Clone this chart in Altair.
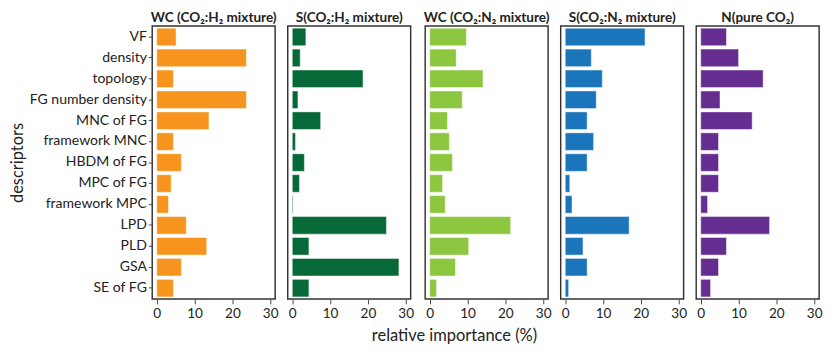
import altair as alt
import pandas as pd

descriptors = ["VF", "density", "topology", "FG number density", "MNC of FG",
               "framework MNC", "HBDM of FG", "MPC of FG", "framework MPC",
               "LPD", "PLD", "GSA", "SE of FG"]

panel_titles = ["WC (CO₂:H₂ mixture)", "S(CO₂:H₂ mixture)", "WC (CO₂:N₂ mixture)",
                "S(CO₂:N₂ mixture)", "N(pure CO₂)"]
panel_colors = ["#f7941d", "#076938", "#8dc63f", "#1b75bb", "#662d91"]

wc_h2 = [5.1, 23.7, 4.4, 23.7, 13.8, 4.4, 6.5, 3.8, 3.1, 7.8, 13.2, 6.5, 4.4]
s_h2 = [3.6, 2.1, 18.7, 1.5, 7.5, 0.85, 3.2, 1.9, 0.2, 24.9, 4.4, 28.2, 4.4]
wc_n2 = [9.7, 7.0, 14.1, 8.6, 4.7, 5.2, 6.0, 3.4, 4.1, 21.4, 10.3, 6.8, 1.8]
s_n2 = [21.1, 6.9, 9.8, 8.2, 5.8, 7.5, 5.8, 1.2, 1.8, 16.9, 4.7, 5.8, 0.9]
n_co2 = [6.8, 10.0, 16.5, 5.1, 13.6, 4.7, 4.7, 4.7, 1.8, 18.2, 6.8, 4.7, 2.6]

series = [wc_h2, s_h2, wc_n2, s_n2, n_co2]
tick_values = [0, 10, 20, 30]

FONT = "Lato"

panels = []
for i, (title, color, vals) in enumerate(zip(panel_titles, panel_colors, series)):
    df = pd.DataFrame({"descriptor": descriptors, "value": vals})
    if i == 0:
        yaxis = alt.Axis(title="descriptors", labelFontSize=14.5, titleFontSize=17,
                         titleFontWeight="normal", labelColor="#222", titleColor="#222",
                         domain=False, ticks=True, tickSize=4, tickColor="#444",
                         labelPadding=2, titlePadding=2, labelFont=FONT, titleFont=FONT)
    else:
        yaxis = None
    c = alt.Chart(df).mark_bar(color=color, stroke="white", strokeWidth=0.8,
                               strokeOpacity=0.6).encode(
        x=alt.X("value:Q",
                scale=alt.Scale(domain=[-1.2, 31.3], nice=False, zero=False),
                axis=alt.Axis(values=tick_values, title=None, domain=False,
                              tickSize=5, tickColor="#444", labelFontSize=14,
                              labelColor="#222", labelFont=FONT, grid=False,
                              labelPadding=3)),
        y=alt.Y("descriptor:N", sort=descriptors,
                scale=alt.Scale(paddingInner=0.16, paddingOuter=0.1),
                axis=yaxis),
    ).properties(
        width=127, height=282,
        title=alt.TitleParams(title, fontSize=14, fontWeight="bold", font=FONT,
                              color="#222", offset=1)
    )
    panels.append(c)

chart = alt.hconcat(*panels, spacing=8).properties(
    title=alt.TitleParams("relative importance (%)", orient="bottom", anchor="middle",
                          fontSize=17, fontWeight="normal", font=FONT, color="#222",
                          dx=40, offset=8)
).configure(
    padding={"left": 0, "top": -3, "right": 0, "bottom": 0},
    view=alt.ViewConfig(stroke="#333", strokeWidth=1.5),
)

chart.save("out.html", embed_options={"renderer": "svg", "actions": False})
